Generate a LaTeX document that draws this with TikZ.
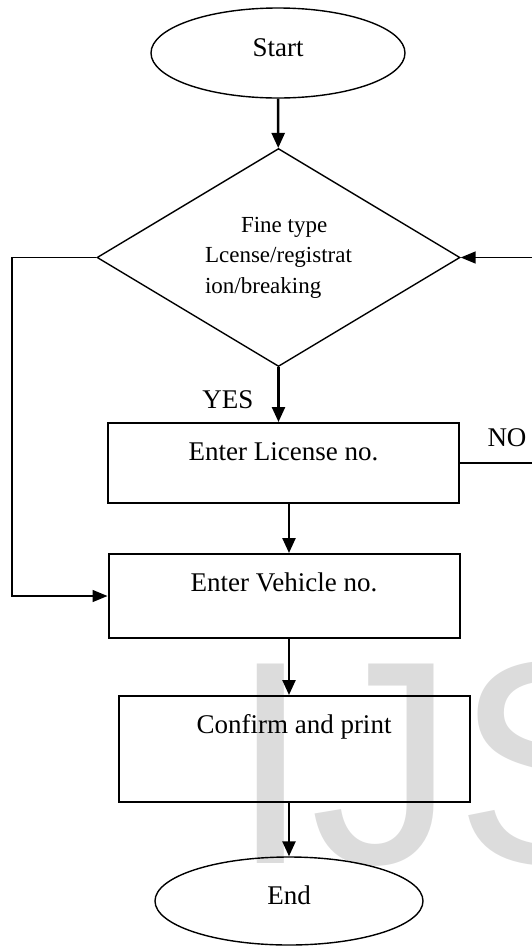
\documentclass[tikz,border=0pt]{standalone}
\usepackage{fontspec}
\setmainfont{Liberation Serif}
\newfontfamily\wmfont{Liberation Sans}
\usepackage{tikz}
\usetikzlibrary{shapes,arrows.meta,positioning}
\definecolor{wmgray}{RGB}{220,220,220}

\begin{document}
\begin{tikzpicture}[x=1pt,y=-1pt]
			\tikzstyle{Term}	= [ellipse, draw, line width=1.4pt, minimum width=254pt, minimum height=90pt, inner sep=0pt, font=\fontsize{27}{32}\selectfont, text height=18pt, text depth=12pt]
			\tikzstyle{Decision}	= [diamond, draw, line width=1.4pt, shape aspect=1.665, minimum width=363pt, minimum height=218pt, inner sep=0pt, align=left, font=\fontsize{23}{30.5}\selectfont]
			\tikzstyle{Process}	= [rectangle, draw, line width=2pt, minimum width=351pt, inner xsep=0pt, inner ysep=19pt, text height=18.5pt, font=\fontsize{27}{32}\selectfont]
			\tikzstyle{Tag}		= [inner sep=0pt, font=\fontsize{27}{32}\selectfont]
			\tikzstyle{Watermark}	= [inner sep=0pt, anchor=base west, text=wmgray, font=\wmfont\fontsize{290}{290}\selectfont]
			\tikzstyle{Flow}	= [line width=2.4pt, -{Triangle[length=15pt,width=13pt]}]
			\tikzstyle{Loop}	= [line width=1.5pt]
			\tikzstyle{LoopIn}	= [Loop, -{Triangle[length=15pt,width=12pt]}]
			
			\useasboundingbox (0,0) rectangle (532,946);
			\clip (0,0) rectangle (532,946);
			\node (wm) at (230,863) [Watermark] {IJS};
			
			\node (start) at (278,53) [Term] {Start};
			\node (dec) at (278.5,257.5) [Decision] {\hspace*{36pt}Fine type\\Lcense/registrat\\ion/breaking};
			\node (lic) at (283.5,463) [Process, text depth=23.5pt] {Enter License no.};
			\node (veh) at (284,596) [Process, text depth=27.5pt] {Enter Vehicle no.};
			\node (conf) at (294,749) [Process, text depth=49.5pt] {Confirm and print};
			\node (end) at (289,901) [Term, minimum width=268pt, minimum height=88pt] {End};
			
			\node (yes) at (228,400) [Tag] {YES};
			\node (no) at (507,438) [Tag] {NO};
			
			\coordinate (west) at (12,0);
			\coordinate (east) at (545,0);
			
			\draw [Flow] (start) to (dec);
			\draw [Flow] (dec.south) to (dec.south |- lic.north);
			\draw [Flow] (lic.south -| end.north) to (veh.north -| end.north);
			\draw [Flow] (veh.south -| end.north) to (conf.north -| end.north);
			\draw [Flow] (conf.south -| end.north) to (end.north);
			
			% yes / no loops
			\draw [LoopIn] (dec.west) -- (dec.west -| west) |- (veh.west);
			\draw [LoopIn] (lic.east) -- (lic.east -| east) |- (dec.east);
		\end{tikzpicture}
\end{document}
